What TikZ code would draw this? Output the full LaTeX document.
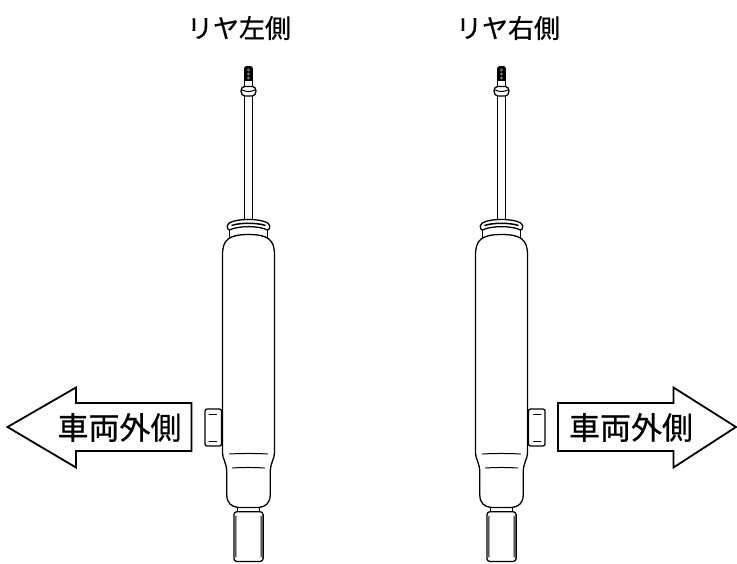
\documentclass[tikz,border=0pt]{standalone}
\usepackage{fontspec}
\newfontfamily\cjk{Noto Sans CJK JP}
\newfontfamily\cjkheavy[FakeBold=0.6]{Noto Sans CJK JP}
\tikzset{
  outline/.style={draw=black,line width=1.3pt,line join=round,fill=white},
  thin line/.style={draw=black,line width=1pt,line cap=round},
  title/.style={font=\cjkheavy\fontsize{26}{26}\selectfont,text=black,inner sep=0pt},
  side label/.style={font=\cjkheavy\fontsize{31}{31}\selectfont,text=black,inner sep=0pt},
  pics/shock/.style={code={
    % bracket
    \draw[thin line] (-26,411.5) -- (-28,411.5) (-26,441) -- (-28,441);
    \draw[outline,rounded corners=2pt] (-43.5,409) -- (-27,409) -- (-27,446) -- (-43.5,446) -- cycle;
    \draw[thin line] (-39.5,414) -- (-32,414) (-39.5,441.5) -- (-32,441.5);
    % thread
    \fill[black,rounded corners=2.5pt] (-4.4,66) rectangle (4.4,84);
    \fill[white] (-3.4,81) rectangle (3.4,87);
    \draw[black,line width=1pt] (-4.3,80) -- (-4.3,87) (4.3,80) -- (4.3,87);
    \foreach \yy in {70,74,78}{\fill[black!55] (0,\yy) circle (1.6);}
    % rod
    \draw[outline] (-4,94) -- (-4,220) -- (4,220) -- (4,94);
    % collar
    \draw[outline] (-4,86.5) .. controls (-6,87) and (-7.5,88) .. (-7.5,91) .. controls (-7.5,94) and (-6,95.5) .. (-4,96) -- (4,96) .. controls (6,95.5) and (7.5,94) .. (7.5,91) .. controls (7.5,88) and (6,87) .. (4,86.5) -- cycle;
    \draw[thin line] (-6,90) .. controls (-3,92) and (3,92) .. (6,90);
    % neck
    \draw[outline] (-18.7,228) -- (-18.7,240) -- (18.7,240) -- (18.7,228);
    % flange
    \draw[outline] (-21.3,226) .. controls (-21,222) and (-12,219.5) .. (0,219.5) .. controls (12,219.5) and (21,222) .. (21.3,226) .. controls (21.3,229) and (20,230) .. (19,230) .. controls (10,225.5) and (-10,225.5) .. (-19,230) .. controls (-20,230) and (-21.3,229) .. (-21.3,226) -- cycle;
    \draw[black,line width=1.5pt] (-17,225.5) .. controls (-8,222.5) and (8,222.5) .. (17,225.5);
    % neck below the body and sleeve
    \draw[outline] (-11,507) -- (-11,512) -- (11,512) -- (11,507);
    \draw[outline,rounded corners=3pt] (-14.6,511.7) -- (14.6,511.7) -- (14.6,561.5) -- (-14.6,561.5) -- cycle;
    \draw[thin line] (-12.7,557) -- (-12.5,516) (12.7,557) -- (12.5,516);
    % body
    \draw[outline] (-26,255) .. controls (-26,240) and (-20,234.5) .. (0,234.5) .. controls (20,234.5) and (26,240) .. (26,255)
      -- (26,453) .. controls (26,459) and (22,462) .. (21.7,472) -- (21.7,495) .. controls (21.7,503) and (17,507) .. (10,507.5)
      -- (-10,507.5) .. controls (-17,507) and (-21.7,503) .. (-21.7,495) -- (-21.7,472) .. controls (-22,462) and (-26,459) .. (-26,453) -- cycle;
    \draw[thin line] (-19,454) .. controls (-8,453.3) and (8,453.3) .. (19,454);
    \draw[thin line] (-16,468) .. controls (-6,467.3) and (6,467.3) .. (16,468);
  }}
}
\begin{document}
\begin{tikzpicture}[x=1pt,y=-1pt]
\useasboundingbox (0,0) rectangle (737,563);
\fill[white] (0,0) rectangle (737,563);
\pic at (248.5,0) {shock};
\pic[xscale=-1] at (501.5,0) {shock};
\draw[line width=1.8pt,line join=miter,fill=white] (7.5,427) -- (76,387.5) -- (76,403) -- (191.5,403) -- (191.5,451) -- (76,451) -- (76,467.5) -- cycle;
\draw[line width=1.8pt,line join=miter,fill=white] (736,427) -- (673.5,387.5) -- (673.5,403) -- (558,403) -- (558,451) -- (673.5,451) -- (673.5,467.5) -- cycle;
\node[title] (left title) at (239,28) {リヤ左側};
\node[title] (right title) at (508,28) {リヤ右側};
\node[side label] (left side) at (119.5,427.5) {車両外側};
\node[side label] (right side) at (631,427.5) {車両外側};
\end{tikzpicture}
\end{document}
